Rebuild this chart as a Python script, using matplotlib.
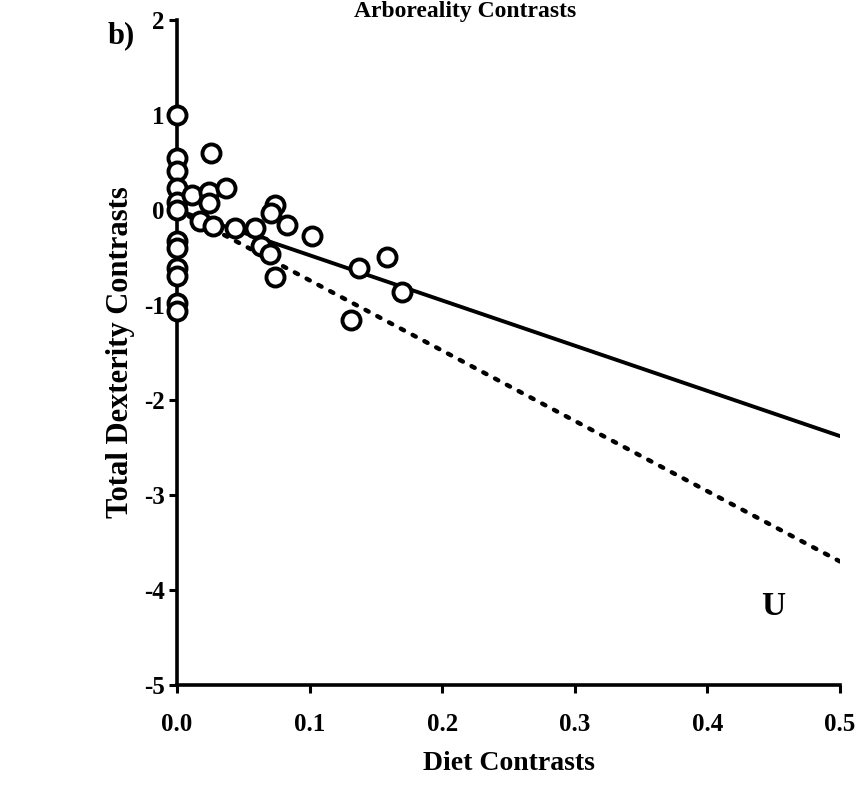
import matplotlib
matplotlib.use("Agg")
import matplotlib.pyplot as plt
import numpy as np

plt.rcParams["font.family"] = ["Liberation Serif", "DejaVu Serif"]
plt.rcParams["font.weight"] = "bold"

# contrastes independientes: dieta vs destreza total
diet = [0.0, 0.0, 0.0, 0.0, 0.0, 0.0, 0.0, 0.0, 0.0, 0.0, 0.0, 0.0,
        0.011, 0.026, 0.024, 0.037, 0.024, 0.017, 0.027, 0.044, 0.059,
        0.063, 0.070, 0.074, 0.074, 0.071, 0.083, 0.102, 0.137, 0.158,
        0.170, 0.131]
dext = [1.0, 0.55, 0.41, 0.23, 0.08, 0.0, -0.33, -0.40, -0.61, -0.69,
        -0.98, -1.06, 0.16, 0.60, 0.19, 0.23, 0.07, -0.12, -0.17, -0.19,
        -0.19, -0.38, -0.46, -0.70, 0.05, -0.03, -0.16, -0.27, -0.61,
        -0.49, -0.86, -1.16]

# pendientes de las regresiones por el origen
slope_solid = -4.76
slope_dotted = -7.4
x_line = np.array([0.0, 0.5])

fig = plt.figure(figsize=(8.61, 7.85), dpi=100)
ax = fig.add_axes([0.2056, 0.1274, 0.7700, 0.8471])

ax.plot(x_line, slope_solid * x_line, color="black", lw=2.8, solid_capstyle="round")
ax.plot(x_line, slope_dotted * x_line, color="black", lw=3.2,
        linestyle=(0, (0.8, 2.2)), dash_capstyle="round")
ax.plot(diet, dext, "o", ms=13, mfc="white", mec="black", mew=2.8,
        clip_on=False, zorder=3)

ax.set_xlim(0, 0.5)
ax.set_ylim(-5, 2)
ax.set_xticks([0.0, 0.1, 0.2, 0.3, 0.4, 0.5])
ax.set_xticklabels(["0.0", "0.1", "0.2", "0.3", "0.4", "0.5"])
ax.set_yticks([2, 1, 0, -1, -2, -3, -4, -5])
ax.set_yticklabels(["2", "1", "0", "-1", "-2", "-3", "-4", "-5"])
for s in ["top", "right"]:
    ax.spines[s].set_visible(False)
for s in ["left", "bottom"]:
    ax.spines[s].set_linewidth(2.6)
ax.tick_params(axis="both", direction="out", width=2.2, length=6,
               labelsize=18, pad=3)
ax.tick_params(axis="x", pad=14)

ax.set_xlabel("Diet Contrasts", fontsize=20, fontweight="bold", labelpad=11)
ax.set_ylabel("Total Dexterity Contrasts", fontsize=22, fontweight="bold", labelpad=6)

fig.text(0.54, 0.999, "Arboreality Contrasts", ha="center", va="top",
         fontsize=17, fontweight="bold")
fig.text(0.125, 0.955, "b)", ha="left", va="center", fontsize=22, fontweight="bold")
ax.text(0.4495, -4.17, "U", ha="center", va="center", fontsize=24, fontweight="bold")

fig.savefig("out.png", dpi=100)
plt.close(fig)
